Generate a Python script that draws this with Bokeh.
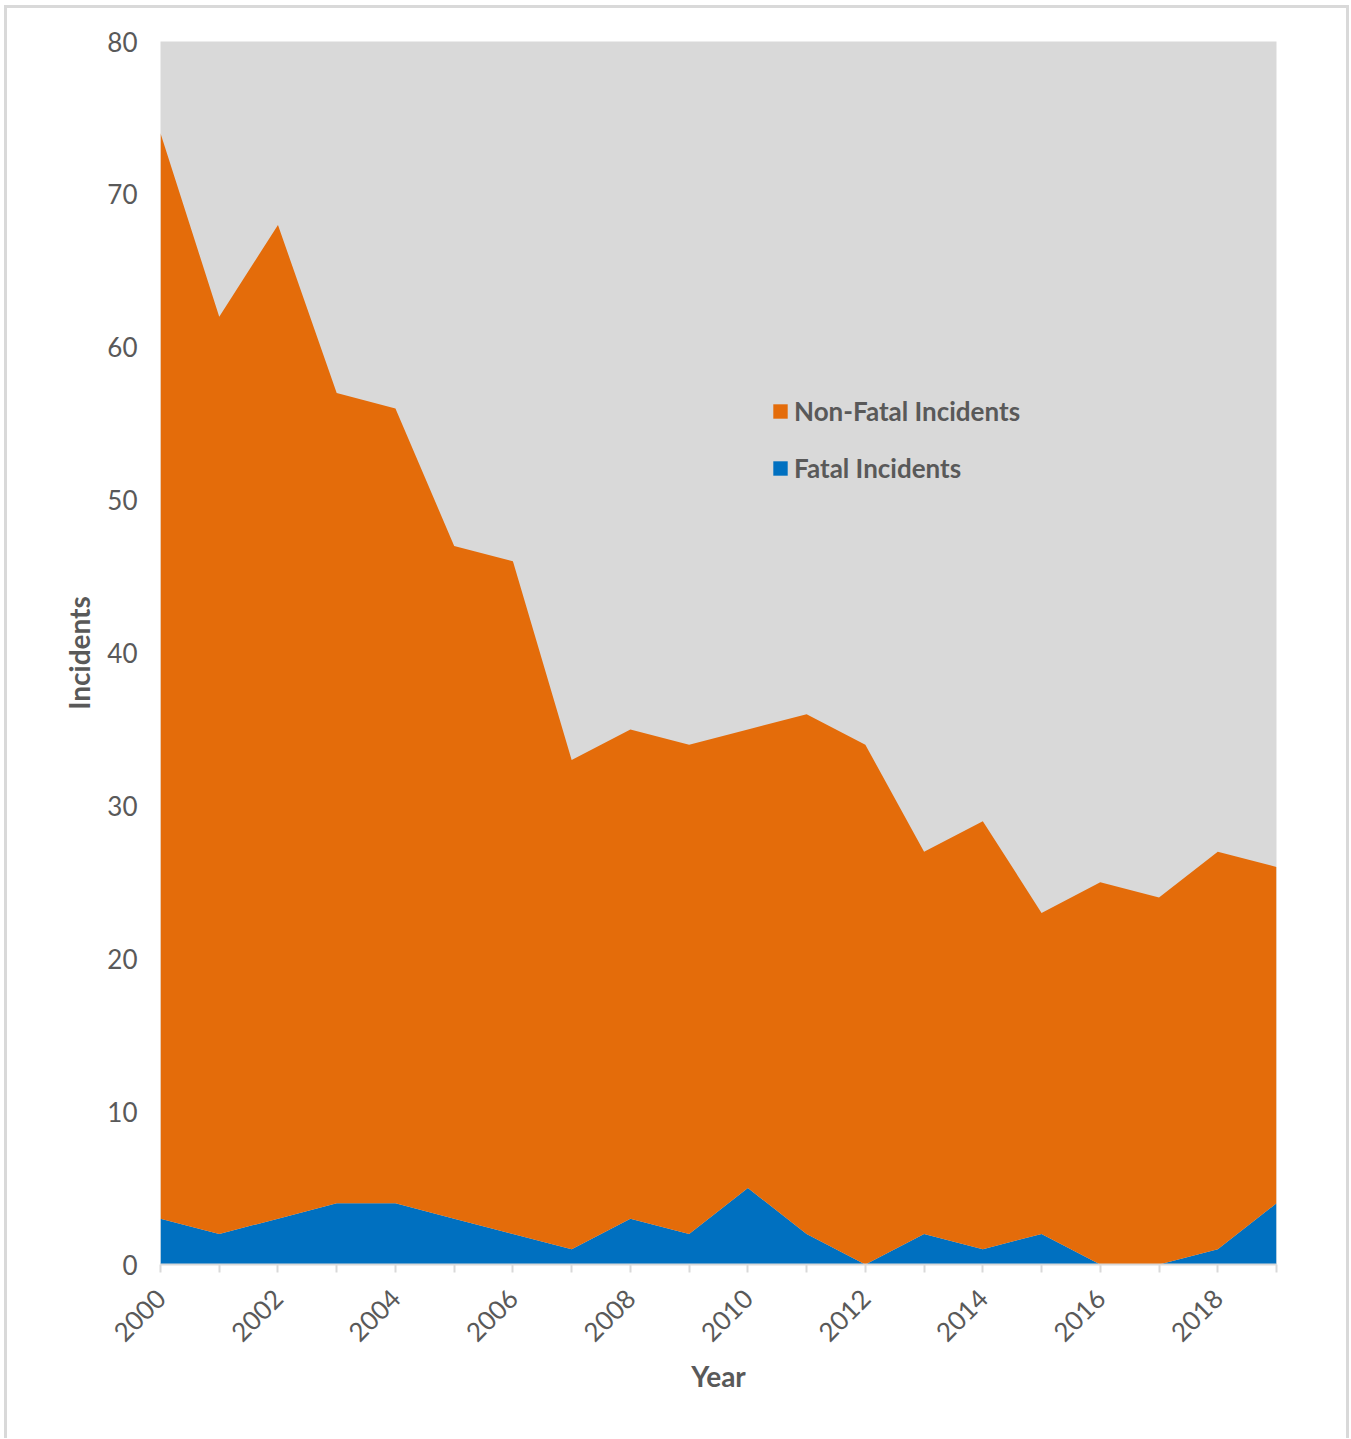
import math
from bokeh.plotting import figure
from bokeh.models import ColumnDataSource, Legend, LegendItem, FixedTicker, Range1d
from bokeh.embed import file_html
from bokeh.resources import INLINE

years = list(range(2000, 2020))
fatal = [3, 2, 3, 4, 4, 3, 2, 1, 3, 2, 5, 2, 0, 2, 1, 2, 0, 0, 1, 4]
non_fatal = [71, 60, 65, 53, 52, 44, 44, 32, 32, 32, 30, 34, 34, 25, 28, 21, 25, 24, 26, 22]
y_ticks = [0, 10, 20, 30, 40, 50, 60, 70, 80]
series_names = ["Fatal Incidents", "Non-Fatal Incidents"]
series_colors = ["#0070C0", "#E46C0A"]

FONT = "Lato"
GREY = "#595959"

src = ColumnDataSource(dict(year=years, fatal=fatal, non_fatal=non_fatal))

p = figure(width=1345, height=1433, output_backend="svg", toolbar_location=None,
           x_range=Range1d(2000, 2019), y_range=Range1d(0, 80),
           min_border_left=153, min_border_top=33, min_border_right=76, min_border_bottom=177,
           background_fill_color="#D9D9D9", border_fill_color="white", outline_line_color=None)
p.styles = {"border": "3px solid #D9D9D9", "border-bottom": "none", "box-sizing": "border-box",
            "margin-left": "4px", "margin-top": "5px"}

renderers = p.varea_stack(["fatal", "non_fatal"], x="year", color=series_colors, source=src)

p.xgrid.visible = False
p.ygrid.visible = False

xa = p.xaxis[0]
xa.ticker = FixedTicker(ticks=years)
xa.major_label_overrides = {y: (str(y) if y % 2 == 0 else "") for y in years}
xa.major_label_orientation = math.pi / 4
xa.axis_line_color = "#D9D9D9"
xa.axis_line_width = 2
xa.major_tick_line_color = "#D9D9D9"
xa.major_tick_line_width = 2
xa.major_tick_in = 0
xa.major_tick_out = 8
xa.minor_tick_line_color = None
xa.major_label_text_font = FONT
xa.major_label_text_font_size = "26px"
xa.major_label_text_color = GREY
xa.major_label_standoff = 21
xa.axis_label = "Year"
xa.axis_label_text_font = FONT
xa.axis_label_text_font_size = "28px"
xa.axis_label_text_font_style = "bold"
xa.axis_label_text_color = GREY
xa.axis_label_standoff = 6

ya = p.yaxis[0]
ya.ticker = FixedTicker(ticks=y_ticks)
ya.axis_line_color = None
ya.major_tick_line_color = None
ya.minor_tick_line_color = None
ya.major_tick_out = 0
ya.major_tick_in = 0
ya.major_label_text_font = FONT
ya.major_label_text_font_size = "26px"
ya.major_label_text_color = GREY
ya.major_label_standoff = 23
ya.axis_label = "Incidents"
ya.axis_label_text_font = FONT
ya.axis_label_text_font_size = "28px"
ya.axis_label_text_font_style = "bold"
ya.axis_label_text_color = GREY
ya.axis_label_standoff = 8

legend = Legend(items=[LegendItem(label=series_names[1], renderers=[renderers[1]]),
                       LegendItem(label=series_names[0], renderers=[renderers[0]])],
                location=(611, 780), background_fill_alpha=0, border_line_color=None,
                label_text_font=FONT, label_text_font_size="26px", label_text_font_style="bold",
                label_text_color=GREY, glyph_width=18, glyph_height=18, spacing=25,
                label_standoff=5, padding=0, margin=0)
p.add_layout(legend)

open("out.html", "w").write(file_html(p, INLINE))
